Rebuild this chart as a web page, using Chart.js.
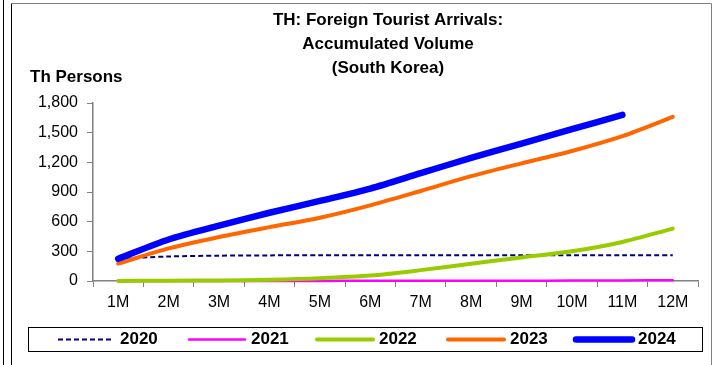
<!DOCTYPE html>
<html>
<head>
<meta charset="utf-8">
<script src="https://cdn.jsdelivr.net/npm/chart.js@4/dist/chart.umd.min.js"></script>
<style>
  body { margin: 0; background: #fff; }
  #wrap { width: 712px; height: 365px; position: relative; }
</style>
</head>
<body>
<div id="wrap"><canvas id="chart"></canvas></div>
<script>
// data
const months = ['1M', '2M', '3M', '4M', '5M', '6M', '7M', '8M', '9M', '10M', '11M', '12M'];
const y2020 = [225, 248, 256, 259, 260, 260, 260, 260, 261, 261, 261, 261];
const y2021 = [0, 0, 1, 1, 1, 2, 2, 3, 3, 4, 5, 8];
const y2022 = [1, 3, 6, 13, 28, 55, 110, 175, 238, 300, 395, 530];
const y2023 = [175, 330, 445, 545, 640, 765, 910, 1060, 1190, 1315, 1465, 1660];
const y2024 = [225, 420, 560, 690, 810, 935, 1090, 1245, 1390, 1535, 1680, null];
const titleLines = ['TH: Foreign Tourist Arrivals:', 'Accumulated Volume', '(South Korea)'];
const yUnit = 'Th Persons';

const FONT = 'Arial, "Liberation Sans", sans-serif';

function series(label, data, color, width, order, dash) {
  return {
    label, data,
    borderColor: color, backgroundColor: color,
    borderWidth: width, borderDash: dash || [],
    pointRadius: 0, pointHoverRadius: 0,
    tension: 0.3, clip: false, order,
    borderJoinStyle: 'round', borderCapStyle: dash ? 'butt' : 'round'
  };
}

// frame, titles and the boxed legend
const decor = {
  id: 'decor',
  beforeDraw(chart) {
    const c = chart.ctx;
    c.save();
    c.fillStyle = '#fff';
    c.fillRect(0, 0, chart.width, chart.height);
    c.lineWidth = 1;
    c.strokeStyle = '#000';
    c.beginPath(); c.moveTo(3.5, 0); c.lineTo(3.5, 365); c.stroke();
    c.beginPath(); c.moveTo(11.5, 3.5); c.lineTo(11.5, 365); c.stroke();
    c.strokeStyle = '#808080';
    c.beginPath(); c.moveTo(11.5, 3.5); c.lineTo(711.5, 3.5); c.lineTo(711.5, 365); c.stroke();
    c.restore();
  },
  afterDraw(chart) {
    const c = chart.ctx;
    c.save();
    c.fillStyle = '#000';
    c.textAlign = 'center';
    c.textBaseline = 'middle';
    c.font = 'bold 17px ' + FONT;
    titleLines.forEach((t, i) => c.fillText(t, 388, 20 + i * 24));
    c.textAlign = 'left';
    c.font = 'bold 17px ' + FONT;
    c.fillText(yUnit, 30, 77);

    // legend box
    c.lineWidth = 1;
    c.strokeStyle = '#000';
    c.strokeRect(28.5, 327.5, 674, 24);
    const starts = [58, 189, 317, 448, 576];
    const ly = 339.5;
    c.font = 'bold 17px ' + FONT;
    chart.data.datasets.forEach((ds, i) => {
      const x = starts[i];
      c.beginPath();
      c.strokeStyle = ds.borderColor;
      c.lineWidth = ds.borderWidth;
      c.lineCap = ds.borderDash.length ? 'butt' : 'round';
      c.setLineDash(ds.borderDash);
      c.moveTo(x, ly); c.lineTo(x + 56, ly);
      c.stroke();
      c.setLineDash([]);
      c.fillStyle = '#000';
      c.fillText(ds.label, x + 62, ly);
    });
    c.restore();
  }
};

new Chart(document.getElementById('chart'), {
  type: 'line',
  data: {
    labels: months,
    datasets: [
      series('2020', y2020, '#000080', 2, 5, [5, 3]),
      series('2021', y2021, '#FF00FF', 2.5, 4),
      series('2022', y2022, '#99CC00', 4, 3),
      series('2023', y2023, '#FF6600', 4, 2),
      series('2024', y2024, '#0000FF', 6.5, 1)
    ]
  },
  options: {
    responsive: true,
    maintainAspectRatio: false,
    animation: false,
    layout: { padding: { left: 0, right: 14, top: 103, bottom: 40 } },
    plugins: { legend: { display: false }, title: { display: false }, tooltip: { enabled: false } },
    scales: {
      x: {
        offset: true,
        grid: { offset: true, drawOnChartArea: false, tickLength: 6, color: '#808080' },
        border: { color: '#808080', width: 1.5 },
        ticks: { color: '#000', font: { family: FONT, size: 16 }, padding: 6, maxRotation: 0, autoSkip: false },
        afterFit(s) { s.height = 44; }
      },
      y: {
        min: 0, max: 1800,
        grid: { drawOnChartArea: false, tickLength: 6, color: '#808080' },
        border: { color: '#808080', width: 1.5 },
        ticks: { stepSize: 300, color: '#000', font: { family: FONT, size: 16 }, padding: 9,
          callback: v => v.toLocaleString('en-US') },
        afterFit(s) { s.width = 93; }
      }
    }
  },
  plugins: [decor]
});
</script>
</body>
</html>
